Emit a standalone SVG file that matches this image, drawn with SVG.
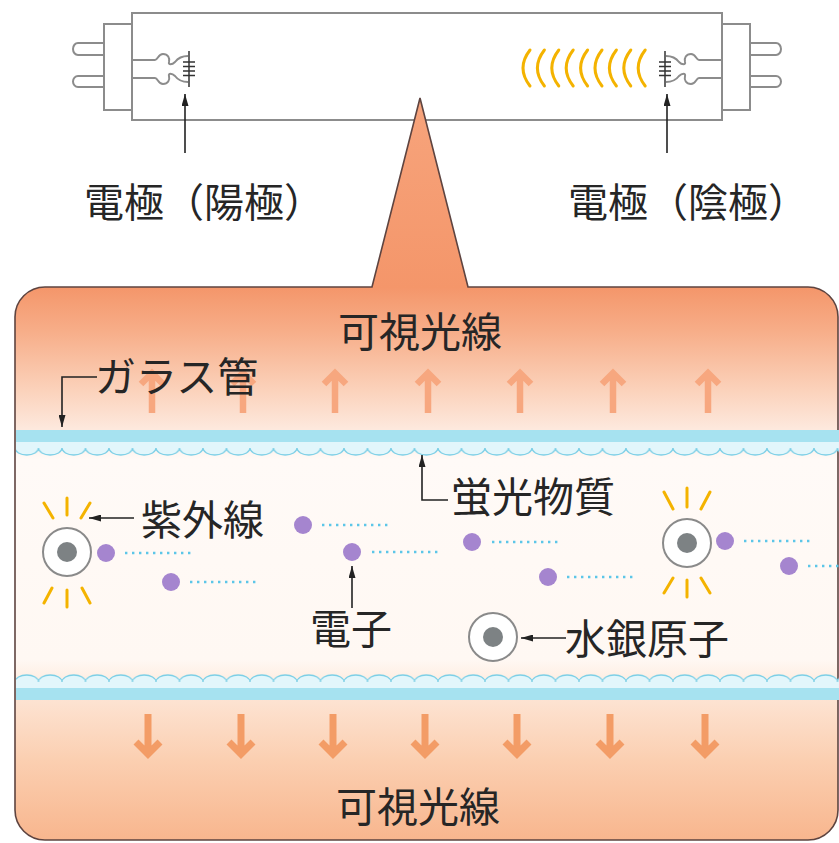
<svg xmlns="http://www.w3.org/2000/svg" width="839" height="843" viewBox="0 0 839 843">
  <defs>
    <style>
      .lbl { font-family: "Noto Sans CJK JP", "Noto Sans", sans-serif; fill: #262626; }
      .big { font-size: 41px; }
      .mid { font-size: 40px; }
      .tube { fill: #fff; stroke: #8c8c8c; stroke-width: 2; }
      .wire { fill: none; stroke: #8c8c8c; stroke-width: 2; stroke-linejoin: round; }
      .fil { stroke: #333; stroke-width: 1.5; fill: none; }
      .lead { fill: none; stroke: #222; stroke-width: 1.6; }
      .uv { stroke: #f4b300; stroke-width: 3; stroke-linecap: round; fill: none; }
      .upArrow { fill: none; stroke: #f7a77f; stroke-width: 6.5; }
      .downArrow { fill: none; stroke: #f39c66; stroke-width: 7; }
      .atomRing { fill: #fff; stroke: #8a8a8a; stroke-width: 2; }
      .atomCore { fill: #7d8284; }
      .electron { fill: #a585cf; }
      .trail { stroke: #5cc6e8; stroke-width: 2.4; stroke-dasharray: 2.4 4.6; fill: none; }
    </style>
    <marker id="ah" viewBox="0 0 12 7" refX="12" refY="3.5" markerWidth="12" markerHeight="7" markerUnits="userSpaceOnUse" orient="auto">
      <path d="M0,0 L12,3.5 L0,7 z" fill="#222"/>
    </marker>
    <linearGradient id="glow" gradientUnits="userSpaceOnUse" x1="0" y1="98" x2="0" y2="840">
      <stop offset="0" stop-color="#f7a47c"/>
      <stop offset="0.255" stop-color="#f4966a"/>
      <stop offset="0.313" stop-color="#f7ad88"/>
      <stop offset="0.394" stop-color="#fbd2bb"/>
      <stop offset="0.447" stop-color="#fde9de"/>
      <stop offset="0.488" stop-color="#fffaf7"/>
      <stop offset="0.757" stop-color="#fff8f3"/>
      <stop offset="0.811" stop-color="#fde3d2"/>
      <stop offset="0.892" stop-color="#fbcfb1"/>
      <stop offset="1" stop-color="#f8b68e"/>
    </linearGradient>
    <!-- phosphor coating on the inner wall, top side (bumps face down) -->
    <pattern id="coatTop" patternUnits="userSpaceOnUse" x="15" y="430" width="23.5" height="26">
      <rect x="0" y="0" width="23.5" height="12" fill="#a6e2f0"/>
      <rect x="0" y="12" width="23.5" height="6" fill="#e2f6fb"/>
      <path d="M0,18 A11.75,7 0 0 0 23.5,18 Z" fill="#e2f6fb"/>
      <path d="M0,18 A11.75,7 0 0 0 23.5,18" fill="none" stroke="#7ccfe6" stroke-width="1.3"/>
    </pattern>
    <!-- phosphor coating on the inner wall, bottom side (bumps face up) -->
    <pattern id="coatBottom" patternUnits="userSpaceOnUse" x="15" y="674" width="23.5" height="26">
      <path d="M0,8 A11.75,7 0 0 1 23.5,8 Z" fill="#e2f6fb"/>
      <rect x="0" y="8" width="23.5" height="6" fill="#e2f6fb"/>
      <rect x="0" y="14" width="23.5" height="12" fill="#a6e2f0"/>
      <path d="M0,8 A11.75,7 0 0 1 23.5,8" fill="none" stroke="#7ccfe6" stroke-width="1.3"/>
    </pattern>
    <g id="electrode">
      <rect x="104" y="24" width="28" height="86" class="tube"/>
      <path d="M104,43 H78 A5,6 0 0 0 78,55 H104" class="wire"/>
      <path d="M104,76 H78 A5,5.5 0 0 0 78,87 H104" class="wire"/>
      <path d="M132,60 L155,60 C158,60 158,54 163,54 C168,54 170,58 169,62 C168,65 172,65 175,62 C178,58 182,56 188,56" class="wire"/>
      <path d="M132,78 L155,78 C158,78 158,84 163,84 C168,84 170,80 169,76 C168,73 172,73 175,76 C178,80 182,82 188,82" class="wire"/>
      <path d="M189,51 V87 M183,62 H195 M183,66.5 H195 M183,71 H195 M183,75.5 H195" class="fil"/>
    </g>
  </defs>

  <rect width="839" height="843" fill="#fff"/>

  <!-- fluorescent lamp -->
  <g id="lamp">
    <rect x="132" y="13" width="590" height="107" class="tube"/>
  </g>
  <g id="electrode-anode">
    <use href="#electrode"/>
  </g>
  <g id="electrode-cathode">
    <use href="#electrode" transform="translate(854,0) scale(-1,1)"/>
    <g id="discharge">
      <path class="uv" d="M530,50 Q516,68 530,86"/>
      <path class="uv" d="M544.4,50 Q530.4,68 544.4,86"/>
      <path class="uv" d="M558.8,50 Q544.8,68 558.8,86"/>
      <path class="uv" d="M573.2,50 Q559.2,68 573.2,86"/>
      <path class="uv" d="M587.6,50 Q573.6,68 587.6,86"/>
      <path class="uv" d="M602,50 Q588,68 602,86"/>
      <path class="uv" d="M616.4,50 Q602.4,68 616.4,86"/>
      <path class="uv" d="M630.8,50 Q616.8,68 630.8,86"/>
      <path class="uv" d="M645.2,50 Q631.2,68 645.2,86"/>
    </g>
  </g>

  <!-- magnified section of the tube -->
  <g id="panel">
    <path d="M15,317 A30,30 0 0 1 45,287 L372,287 L420,98 L468,287 L808,287 A30,30 0 0 1 838,317 L838,810 A30,30 0 0 1 808,840 L45,840 A30,30 0 0 1 15,810 Z" fill="url(#glow)" stroke="#5e4440" stroke-width="1.6" stroke-linejoin="miter"/>
  </g>

  <g id="visible-light-up">
    <path class="upArrow" d="M152,413 V373 M141,384 L152,373 L163,384"/>
    <path class="upArrow" d="M243,413 V373 M232,384 L243,373 L254,384"/>
    <path class="upArrow" d="M335,413 V373 M324,384 L335,373 L346,384"/>
    <path class="upArrow" d="M428,413 V373 M417,384 L428,373 L439,384"/>
    <path class="upArrow" d="M520,413 V373 M509,384 L520,373 L531,384"/>
    <path class="upArrow" d="M613,413 V373 M602,384 L613,373 L624,384"/>
    <path class="upArrow" d="M708,413 V373 M697,384 L708,373 L719,384"/>
  </g>

  <g id="glass-top">
    <rect x="16" y="430" width="823" height="26" fill="url(#coatTop)"/>
  </g>
  <g id="glass-bottom">
    <rect x="16" y="674" width="823" height="26" fill="url(#coatBottom)"/>
  </g>

  <g id="visible-light-down">
    <path class="downArrow" d="M148,714 V753 M136,742 L148,754 L160,742"/>
    <path class="downArrow" d="M241,714 V753 M229,742 L241,754 L253,742"/>
    <path class="downArrow" d="M333,714 V753 M321,742 L333,754 L345,742"/>
    <path class="downArrow" d="M425,714 V753 M413,742 L425,754 L437,742"/>
    <path class="downArrow" d="M517,714 V753 M505,742 L517,754 L529,742"/>
    <path class="downArrow" d="M610,714 V753 M598,742 L610,754 L622,742"/>
    <path class="downArrow" d="M705,714 V753 M693,742 L705,754 L717,742"/>
  </g>

  <!-- mercury atoms -->
  <g id="atom-left">
    <path class="uv" d="M67,498 V515 M44,503 L53,518 M90,503 L81,518 M67,590 V607 M52,588 L44,603 M82,588 L90,603"/>
    <circle cx="67" cy="552" r="24" class="atomRing"/>
    <circle cx="67" cy="552" r="10" class="atomCore"/>
  </g>
  <g id="atom-right">
    <path class="uv" d="M687,488 V507 M664,492 L673,509 M710,492 L701,509 M687,580 V597 M673,578 L664,593 M701,578 L710,593"/>
    <circle cx="687" cy="543" r="24" class="atomRing"/>
    <circle cx="687" cy="543" r="10" class="atomCore"/>
  </g>
  <g id="atom-mercury">
    <circle cx="493" cy="637" r="24" class="atomRing"/>
    <circle cx="493" cy="637" r="10" class="atomCore"/>
  </g>

  <!-- electrons with their trails -->
  <g id="electrons">
    <path class="trail" d="M125,553 H194 M190,582 H259 M322,525 H391 M372,552 H441 M492,542 H561 M567,577 H636 M744,541 H813 M808,566 H839"/>
    <circle cx="106" cy="553" r="9" class="electron"/>
    <circle cx="171" cy="582" r="9" class="electron"/>
    <circle cx="303" cy="525" r="9" class="electron"/>
    <circle cx="352" cy="552" r="9" class="electron"/>
    <circle cx="472" cy="542" r="9" class="electron"/>
    <circle cx="548" cy="577" r="9" class="electron"/>
    <circle cx="725" cy="541" r="9" class="electron"/>
    <circle cx="789" cy="566" r="9" class="electron"/>
  </g>

  <g id="connectors">
    <path class="lead" d="M185,153 V94" marker-end="url(#ah)"/>
    <path class="lead" d="M667,153 V94" marker-end="url(#ah)"/>
    <path class="lead" d="M97,377 H62 V427" marker-end="url(#ah)"/>
    <path class="lead" d="M448,500 H422 V455" marker-end="url(#ah)"/>
    <path class="lead" d="M134,518 H89" marker-end="url(#ah)"/>
    <path class="lead" d="M352,608 V566" marker-end="url(#ah)"/>
    <path class="lead" d="M566,638 H521" marker-end="url(#ah)"/>
  </g>

  <g id="labels">
    <text class="lbl mid" x="204" y="217" text-anchor="middle">電極（陽極）</text>
    <text class="lbl mid" x="688" y="217" text-anchor="middle">電極（陰極）</text>
    <text class="lbl big" x="338" y="347">可視光線</text>
    <text class="lbl big" x="95" y="392">ガラス管</text>
    <text class="lbl big" x="451" y="512">蛍光物質</text>
    <text class="lbl big" x="141" y="535">紫外線</text>
    <text class="lbl big" x="310" y="644">電子</text>
    <text class="lbl big" x="565" y="654">水銀原子</text>
    <text class="lbl big" x="336" y="822">可視光線</text>
  </g>
</svg>
